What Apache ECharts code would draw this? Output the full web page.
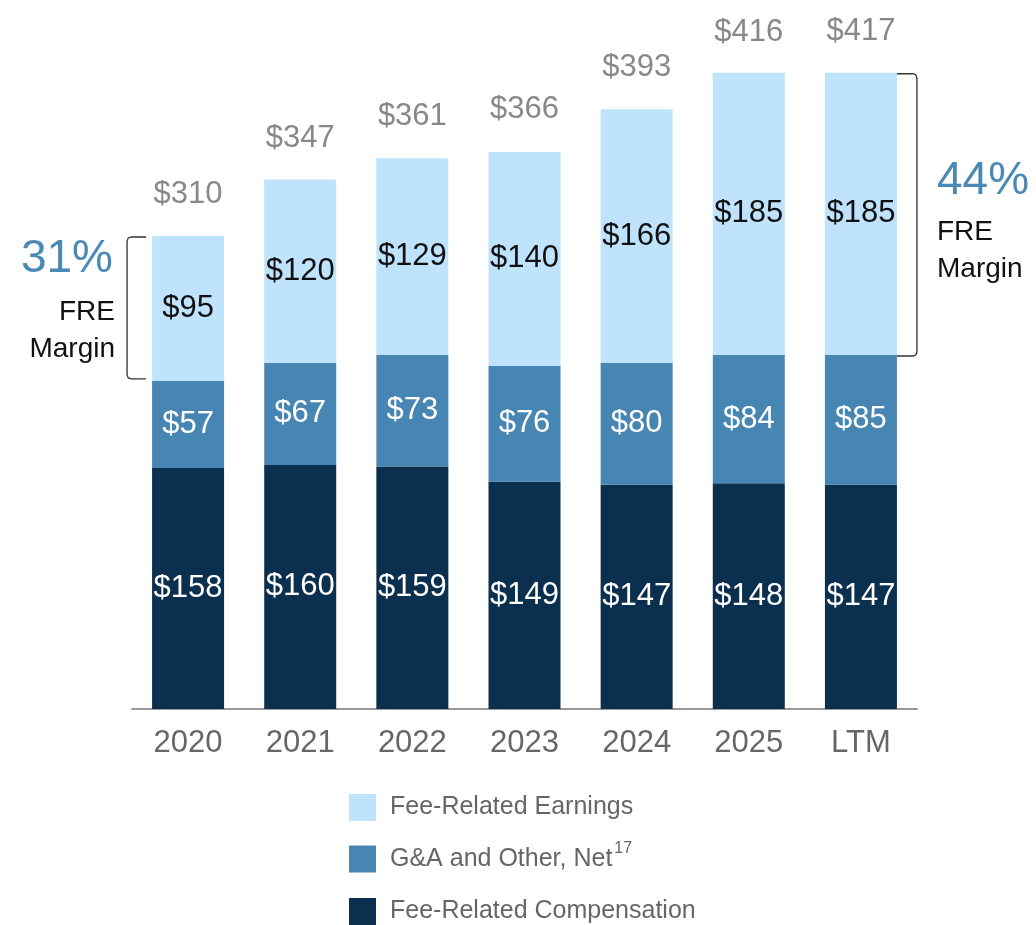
<!DOCTYPE html>
<html><head><meta charset="utf-8">
<script src="https://cdn.jsdelivr.net/npm/echarts@6/dist/echarts.min.js"></script>
<style>html,body{margin:0;padding:0;background:#fff}#c{width:1036px;height:925px}</style>
</head><body><div id="c"></div>
<script>
const categories = ['2020','2021','2022','2023','2024','2025','LTM'];
const compensation = [158,160,159,149,147,148,147];
const gaOther = [57,67,73,76,80,84,85];
const fre = [95,120,129,140,166,185,185];
const totals = [310,347,361,366,393,416,417];
const legendNames = ['Fee-Related Earnings', 'G&A and Other, Net', 'Fee-Related Compensation'];
const marginLeft = '31%';
const marginRight = '44%';

const FONT = 'Liberation Sans';
const C_LIGHT = '#BFE3FC', C_MID = '#4786B2', C_DARK = '#0B2F4E';
const chart = echarts.init(document.getElementById('c'));
const fmt = p => '$' + p.value;
const mkLegend = (name, top) => ({
  orient: 'horizontal', left: 349, top: top, padding: 0, itemWidth: 27, itemHeight: 27, itemGap: 10,
  icon: 'rect', selectedMode: false, data: [name],
  formatter: n => n === 'G&A and Other, Net' ? '{a|' + n + '}{s|17}' : '{a|' + n + '}',
  textStyle: {color: '#666', fontSize: 25, fontFamily: FONT, padding: [0, 0, 0, 9],
    rich: {a: {fontSize: 25, color: '#666', fontFamily: FONT},
           s: {fontSize: 16, color: '#666', fontFamily: FONT, padding: [0, 0, 20, 2]}}}
});
const option = {
  animation: false,
  textStyle: {fontFamily: FONT},
  grid: {left: 132, right: 119, top: 22.4, bottom: 216, containLabel: false},
  xAxis: {type: 'category', data: categories,
    axisLine: {lineStyle: {color: '#999', width: 2}}, axisTick: {show: false},
    axisLabel: {color: '#666', fontSize: 31, margin: 19, fontFamily: FONT}},
  yAxis: {type: 'value', min: 0, max: 450, show: false, splitLine: {show: false}},
  legend: [mkLegend(legendNames[0], 794), mkLegend(legendNames[1], 841), mkLegend(legendNames[2], 898)],
  series: [
    {name: 'Fee-Related Compensation', type: 'bar', stack: 't', data: compensation, barWidth: 72,
      itemStyle: {color: C_DARK}, label: {show: true, position: 'inside', color: '#fff', fontSize: 31, formatter: fmt, fontFamily: FONT}},
    {name: 'G&A and Other, Net', type: 'bar', stack: 't', data: gaOther, barWidth: 72,
      itemStyle: {color: C_MID}, label: {show: true, position: 'inside', color: '#fff', fontSize: 31, formatter: fmt, fontFamily: FONT}},
    {name: 'Fee-Related Earnings', type: 'bar', stack: 't', data: fre, barWidth: 72,
      itemStyle: {color: C_LIGHT}, label: {show: true, position: 'inside', color: '#111', fontSize: 31, formatter: fmt, fontFamily: FONT}},
    {name: 'totals', type: 'scatter', data: totals, symbolSize: 0, silent: true,
      label: {show: true, position: 'top', distance: 26, color: '#6a6a6a', fontSize: 31, formatter: fmt, fontFamily: FONT}}
  ]
};
chart.setOption(option);

// annotation brackets computed from data positions
const s0 = compensation[0] + gaOther[0], t0 = s0 + fre[0];
const n = categories.length - 1;
const sN = compensation[n] + gaOther[n], tN = sN + fre[n];
const pTop0 = chart.convertToPixel({gridIndex: 0}, [0, t0]);
const pBot0 = chart.convertToPixel({gridIndex: 0}, [0, s0]);
const pTopN = chart.convertToPixel({gridIndex: 0}, [n, tN]);
const pBotN = chart.convertToPixel({gridIndex: 0}, [n, sN]);
const lx = pTop0[0] - 61, lx2 = pTop0[0] - 42;
const rx = pTopN[0] + 56, rx2 = pTopN[0] + 36;
const br = (x, xe, y1, y2) => {
  const d = xe > x ? 4 : -4;
  return [[xe, y1], [x + d, y1], [x + d * 0.3, y1 + 1], [x, y1 + 4], [x, y2 - 4], [x + d * 0.3, y2 - 1], [x + d, y2], [xe, y2]];
};
chart.setOption({graphic: [
  {type: 'polyline', shape: {points: br(lx, lx2, pTop0[1] + 1, pBot0[1] - 2)}, style: {stroke: '#333', lineWidth: 1.3, fill: null}},
  {type: 'polyline', shape: {points: br(rx, rx2, pTopN[1] + 1, pBotN[1] + 1)}, style: {stroke: '#333', lineWidth: 1.3, fill: null}},
  {type: 'text', x: 113, y: 259, style: {text: marginLeft, fill: '#4A89B5', fontSize: 46, fontFamily: FONT, align: 'right', verticalAlign: 'middle'}},
  {type: 'text', x: 115, y: 312, style: {text: 'FRE', fill: '#111', fontSize: 28, fontFamily: FONT, align: 'right', verticalAlign: 'middle'}},
  {type: 'text', x: 115, y: 349, style: {text: 'Margin', fill: '#111', fontSize: 28, fontFamily: FONT, align: 'right', verticalAlign: 'middle'}},
  {type: 'text', x: 937, y: 181, style: {text: marginRight, fill: '#4A89B5', fontSize: 46, fontFamily: FONT, align: 'left', verticalAlign: 'middle'}},
  {type: 'text', x: 937, y: 232, style: {text: 'FRE', fill: '#111', fontSize: 28, fontFamily: FONT, align: 'left', verticalAlign: 'middle'}},
  {type: 'text', x: 937, y: 269, style: {text: 'Margin', fill: '#111', fontSize: 28, fontFamily: FONT, align: 'left', verticalAlign: 'middle'}}
]});
</script></body></html>
